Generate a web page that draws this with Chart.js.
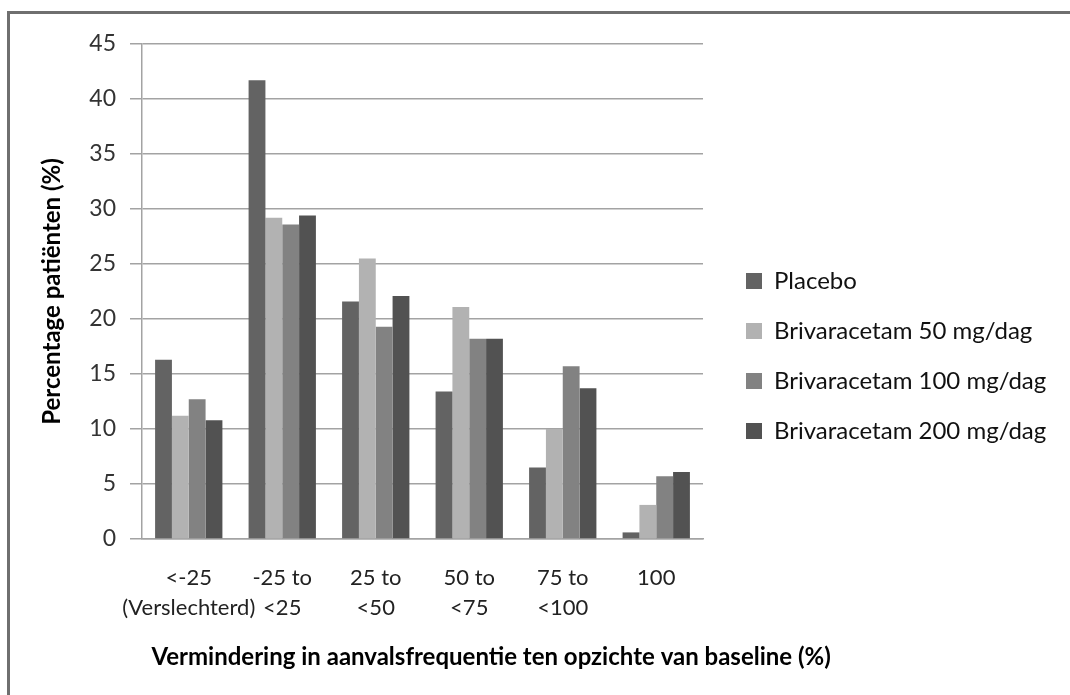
<!DOCTYPE html>
<html>
<head>
<meta charset="utf-8">
<script src="https://cdn.jsdelivr.net/npm/chart.js@4.4.1/dist/chart.umd.min.js"></script>
<style>
  html, body { margin: 0; padding: 0; background: #fff; overflow: hidden; }
  #frame { position: absolute; left: 7px; top: 11px; width: 1100px; height: 720px; border: 3px solid #6f6f6f; }
  #wrap { position: absolute; left: 0; top: 0; width: 1070px; height: 695px; }
</style>
</head>
<body>
<div id="frame"></div>
<div id="wrap"><canvas id="barChart"></canvas></div>
<script>
// categories on the x axis (two-line labels)
const categories = [
  ["<-25", "(Verslechterd)"],
  ["-25 to", "<25"],
  ["25 to", "<50"],
  ["50 to", "<75"],
  ["75 to", "<100"],
  ["100"]
];
const seriesNames = ["Placebo", "Brivaracetam 50 mg/dag", "Brivaracetam 100 mg/dag", "Brivaracetam 200 mg/dag"];
const placebo = [16.3, 41.7, 21.6, 13.4, 6.5, 0.6];
const briv50 = [11.2, 29.2, 25.5, 21.1, 10.0, 3.1];
const briv100 = [12.7, 28.6, 19.3, 18.2, 15.7, 5.7];
const briv200 = [10.8, 29.4, 22.1, 18.2, 13.7, 6.1];
const yMin = 0, yMax = 45, yStep = 5;
const yTitle = "Percentage patiënten (%)";
const xTitle = "Vermindering in aanvalsfrequentie ten opzichte van baseline (%)";

const colors = ["#636363", "#b2b2b2", "#828282", "#525252"];
const gridColor = "#a3a3a3";
const legendWidth = 350;

// x axis title is centred under the whole figure, not under the plot
const xTitlePlugin = {
  id: "xTitle",
  afterDraw(chart) {
    const ctx = chart.ctx;
    ctx.save();
    ctx.font = "bold 24px Lato";
    ctx.fillStyle = "#000";
    ctx.textAlign = "center";
    ctx.textBaseline = "middle";
    ctx.fillText(xTitle, chart.width * 0.459, chart.chartArea.bottom + 118);
    ctx.restore();
  }
};

// the layout caps a side legend at a quarter of the width, give it the room it needs
const wideLegend = {
  id: "wideLegend",
  beforeUpdate(chart) {
    const lg = chart.legend;
    if (lg && !lg._wide) {
      const fit = lg.fit;
      lg.fit = function () {
        fit.call(this);
        this.width = legendWidth;
      };
      lg._wide = true;
    }
  }
};

const ctx = document.getElementById("barChart").getContext("2d");
new Chart(ctx, {
  type: "bar",
  data: {
    labels: categories,
    datasets: [placebo, briv50, briv100, briv200].map((d, i) => ({
      label: seriesNames[i],
      data: d,
      backgroundColor: colors[i],
      borderWidth: 0,
      categoryPercentage: 0.72,
      barPercentage: 1.0
    }))
  },
  options: {
    responsive: true,
    maintainAspectRatio: false,
    animation: false,
    layout: { padding: { left: 30, top: 44, right: 0, bottom: 27 } },
    plugins: {
      legend: {
        position: "right",
        labels: {
          boxWidth: 16,
          boxHeight: 16,
          padding: 26,
          color: "#111",
          font: { family: "Lato", size: 24 }
        }
      },
      tooltip: { enabled: false }
    },
    scales: {
      x: {
        grid: { display: false, drawTicks: false },
        border: { color: gridColor, width: 1.5 },
        ticks: {
          padding: 24,
          color: "#222",
          autoSkip: false,
          maxRotation: 0,
          font: { family: "Lato", size: 22, lineHeight: 1.36 }
        },
        afterFit(s) { s.height = 695 - 27 - 539; }
      },
      y: {
        min: yMin,
        max: yMax,
        ticks: { stepSize: yStep, padding: 14, color: "#333", font: { family: "Lato", size: 23 } },
        grid: { color: gridColor, lineWidth: 1.5, tickLength: 12 },
        border: { color: gridColor, width: 1.5 },
        title: {
          display: true,
          text: yTitle,
          color: "#000",
          font: { family: "Lato", size: 24, weight: "bold" },
          padding: { top: 8, bottom: 0 }
        },
        afterFit(s) { s.width = 142 - 30; }
      },
      gap: {
        type: "linear",
        axis: "y",
        position: "right",
        display: true,
        grid: { display: false },
        border: { display: false },
        ticks: { display: false },
        afterFit(s) { s.width = 17; }
      }
    }
  },
  plugins: [xTitlePlugin, wideLegend]
});
</script>
</body>
</html>
